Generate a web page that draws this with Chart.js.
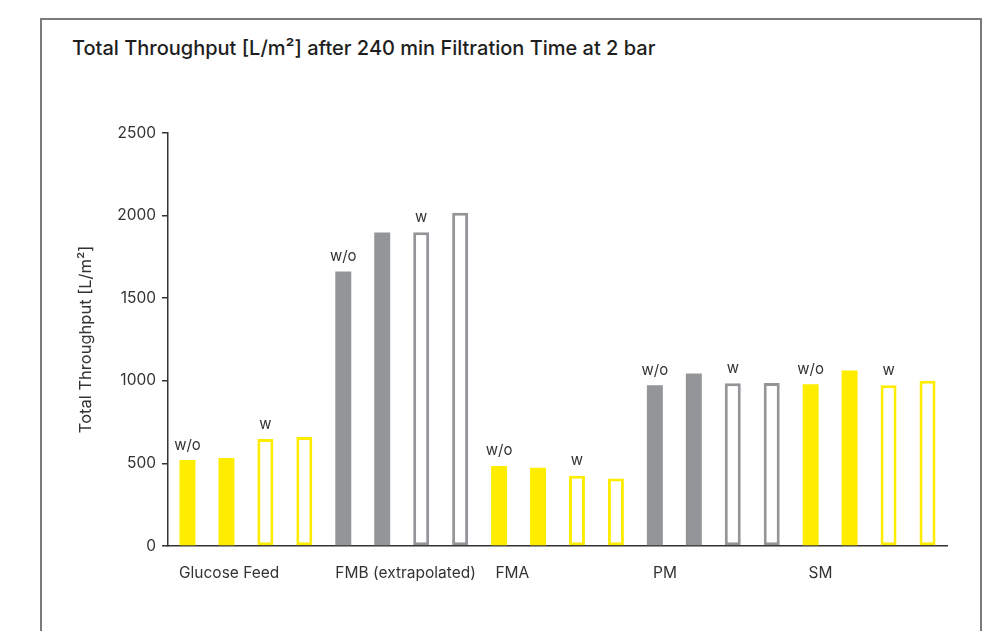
<!DOCTYPE html>
<html>
<head>
<meta charset="utf-8">
<title>Total Throughput</title>
<script src="https://cdn.jsdelivr.net/npm/chart.js@4/dist/chart.umd.min.js"></script>
<style>
  html, body { margin: 0; padding: 0; background: #fff; }
  .wrapper { position: relative; width: 996px; height: 631px; overflow: hidden; font-family: Inter, sans-serif; }
  .frame { position: absolute; left: 40px; top: 18px; width: 938px; height: 700px; border: 2px solid #7b7b7b; border-bottom: none; }
  .chart-title { position: absolute; left: 72px; top: 36px; font-size: 20px; font-weight: 500; color: #1e1e1e; white-space: nowrap; }
  #bar-chart { position: absolute; left: 0; top: 0; }
</style>
</head>
<body>
<div class="wrapper">
  <div class="frame"></div>
  <div class="chart-title">Total Throughput [L/m²] after 240 min Filtration Time at 2 bar</div>
  <canvas id="bar-chart" width="996" height="631"></canvas>
</div>
<script>
// data
const groups = ["Glucose Feed", "FMB (extrapolated)", "FMA", "PM", "SM"];
const categories = [
  "Glucose Feed w/o 1", "Glucose Feed w/o 2", "Glucose Feed w 1", "Glucose Feed w 2",
  "FMB w/o 1", "FMB w/o 2", "FMB w 1", "FMB w 2",
  "FMA w/o 1", "FMA w/o 2", "FMA w 1", "FMA w 2",
  "PM w/o 1", "PM w/o 2", "PM w 1", "PM w 2",
  "SM w/o 1", "SM w/o 2", "SM w 1", "SM w 2"
];
const values = [
  520, 532, 647, 660,
  1661, 1898, 1899, 2017,
  485, 473, 425, 408,
  973, 1044, 985, 987,
  979, 1062, 973, 1000
];
const conditions = [
  "w/o", "w/o", "w", "w",
  "w/o", "w/o", "w", "w",
  "w/o", "w/o", "w", "w",
  "w/o", "w/o", "w", "w",
  "w/o", "w/o", "w", "w"
];
const barNotes = [
  "w/o", "", "w", "",
  "w/o", "", "w", "",
  "w/o", "", "w", "",
  "w/o", "", "w", "",
  "w/o", "", "w", ""
];
const yTicks = [0, 500, 1000, 1500, 2000, 2500];

// styles
const YELLOW = "#FFED00";
const GRAY = "#939598";
const TEXT = "#333333";
const groupColors = [YELLOW, GRAY, YELLOW, GRAY, YELLOW];
// where each group name sits, in bar slots from the first bar
const groupLabelAt = [1.07, 5.6, 8.34, 12.26, 16.25];

function colorOf(i) {
  return groupColors[Math.floor(i / 4)];
}

// w/o, w notes above bars + group names under the axis
const notesPlugin = {
  id: "notes",
  afterDatasetsDraw: function (chart) {
    const ctx = chart.ctx;
    const meta = chart.getDatasetMeta(0);
    const xs = chart.scales.x;
    ctx.save();
    ctx.fillStyle = TEXT;
    ctx.textAlign = "center";
    ctx.textBaseline = "middle";
    ctx.font = "15px Inter";
    meta.data.forEach(function (bar, i) {
      if (barNotes[i]) ctx.fillText(barNotes[i], bar.x, bar.y - 15);
    });
    const x0 = xs.getPixelForValue(0);
    const step = xs.getPixelForValue(1) - x0;
    ctx.font = "15.5px Inter";
    groups.forEach(function (g, i) {
      ctx.fillText(g, x0 + step * groupLabelAt[i], chart.chartArea.bottom + 27);
    });
    ctx.restore();
  }
};

const barCtx = document.getElementById("bar-chart");
new Chart(barCtx, {
  type: "bar",
  data: {
    labels: categories,
    datasets: [
      {
        data: values,
        backgroundColor: values.map(function (v, i) {
          return conditions[i] === "w/o" ? colorOf(i) : "#ffffff";
        }),
        borderColor: values.map(function (v, i) { return colorOf(i); }),
        borderWidth: values.map(function (v, i) {
          return conditions[i] === "w" ? 3 : 0;
        }),
        borderSkipped: false,
        barPercentage: 0.41,
        categoryPercentage: 1,
      },
    ],
  },
  options: {
    responsive: false,
    animation: false,
    layout: { padding: { left: 70, top: 133, right: 49, bottom: 85 } },
    plugins: {
      legend: { display: false },
      tooltip: { enabled: false },
      title: { display: false },
    },
    scales: {
      x: {
        grid: { display: false },
        ticks: { display: false },
        border: { display: true, color: TEXT, width: 1.5 },
        afterFit: function (scale) {
          scale.height = 0;
        },
      },
      y: {
        min: 0,
        max: 2500,
        afterBuildTicks: function (scale) {
          scale.ticks = yTicks.map(function (v) { return { value: v }; });
        },
        ticks: {
          color: TEXT,
          padding: 6,
          font: { family: "Inter", size: 15.5 },
          callback: function (v) { return String(v); },
        },
        grid: { display: true, drawOnChartArea: false, drawTicks: true, tickLength: 6, color: TEXT, lineWidth: 1.5 },
        border: { display: true, color: TEXT, width: 1.5 },
        title: {
          display: true,
          text: "Total Throughput [L/m²]",
          color: TEXT,
          font: { family: "Inter", size: 16.5 },
          padding: { top: 6, bottom: 0 },
        },
        afterFit: function (scale) {
          scale.width = 98;
        },
      },
    },
  },
  plugins: [notesPlugin],
});
</script>
</body>
</html>
